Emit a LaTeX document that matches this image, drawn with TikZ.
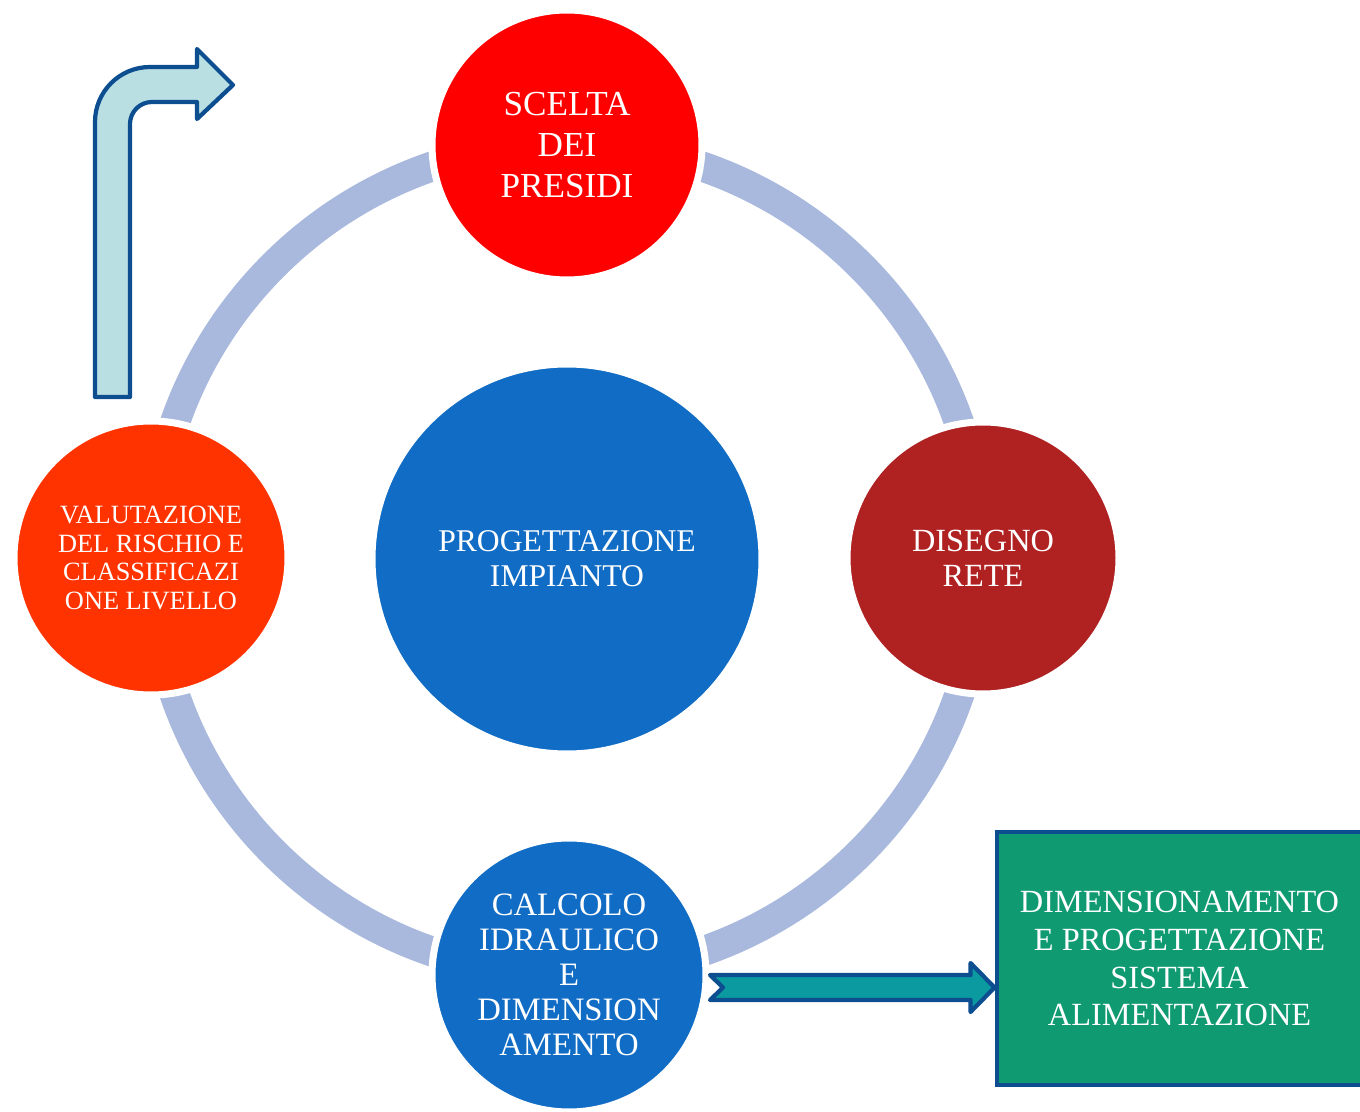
\documentclass[tikz,border=0pt]{standalone}
\usepackage{fontspec}
\setmainfont{Liberation Serif}
\usetikzlibrary{calc}

\definecolor{ringblue}{HTML}{A9B9DD}
\definecolor{hubblue}{HTML}{106CC4}
\definecolor{presidired}{HTML}{FF0000}
\definecolor{rischiored}{HTML}{FF3300}
\definecolor{retered}{HTML}{B02222}
\definecolor{boxgreen}{HTML}{109A72}
\definecolor{edgeblue}{HTML}{0C4E90}
\definecolor{flowteal}{HTML}{0A9AA0}
\definecolor{backcyan}{HTML}{BADFE3}

\begin{document}
\begin{tikzpicture}[thick,
    phase/.style = {circle, draw=white, line width=2pt, text=white, align=center, inner sep=0pt},
    box/.style = {draw=edgeblue, line width=1.4pt, fill=boxgreen, text=white, align=center,
                  minimum width=3.65cm, minimum height=2.53cm},
    flow/.style = {draw=edgeblue, line width=1.2pt, fill=flowteal, line join=round},
    back/.style = {draw=edgeblue, line width=1.2pt, fill=backcyan, line join=round}]
    \useasboundingbox (0,0) rectangle (13.6,11.11);
    \draw[ringblue, line width=0.3cm] (5.67,5.52) circle (4.15);

    \node[phase, fill=hubblue, minimum size=3.9cm, font=\fontsize{9}{9.9}\selectfont] (hub) at (5.67,5.52) {PROGETTAZIONE\\IMPIANTO};
    \node[phase, fill=presidired, minimum size=2.7cm, font=\fontsize{10}{11.6}\selectfont] (presidi) at (5.67,9.66) {SCELTA\\DEI\\PRESIDI};
    \node[phase, fill=retered, minimum size=2.72cm, font=\fontsize{9.2}{9.9}\selectfont] (rete) at (9.83,5.53) {DISEGNO\\RETE};
    \node[phase, fill=rischiored, minimum size=2.74cm, font=\fontsize{7.5}{8.2}\selectfont] (rischio) at (1.51,5.53) {VALUTAZIONE\\DEL RISCHIO E\\CLASSIFICAZI\\ONE LIVELLO};
    \node[phase, fill=hubblue, minimum size=2.74cm, font=\fontsize{9.3}{10}\selectfont] (calcolo) at (5.69,1.36) {CALCOLO\\IDRAULICO\\E\\DIMENSION\\AMENTO};
    \node[box, font=\fontsize{9.2}{10.8}\selectfont] (alim) at (11.795,1.525) {DIMENSIONAMENTO\\E PROGETTAZIONE\\SISTEMA\\ALIMENTAZIONE};

    \coordinate (tail) at (7.10,1.235);
    \coordinate (tip) at (alim.west |- tail);
    \filldraw[flow] ($(tail)+(0,0.125)$) -- ($(tip)+(-0.24,0.125)$) -- ($(tip)+(-0.24,0.245)$) -- (tip)
        -- ($(tip)+(-0.24,-0.245)$) -- ($(tip)+(-0.24,-0.125)$) -- ($(tail)+(0,-0.125)$)
        -- ($(tail)+(0.13,0)$) -- cycle;

    \filldraw[back] (0.95,7.14) -- (0.95,9.89) arc[start angle=180, end angle=90, radius=0.55]
        -- (1.97,10.44) -- (1.97,10.62) -- (2.33,10.26) -- (1.97,9.92) -- (1.97,10.09)
        -- (1.52,10.09) arc[start angle=90, end angle=180, radius=0.22] -- (1.30,7.14) -- cycle;
\end{tikzpicture}
\end{document}
